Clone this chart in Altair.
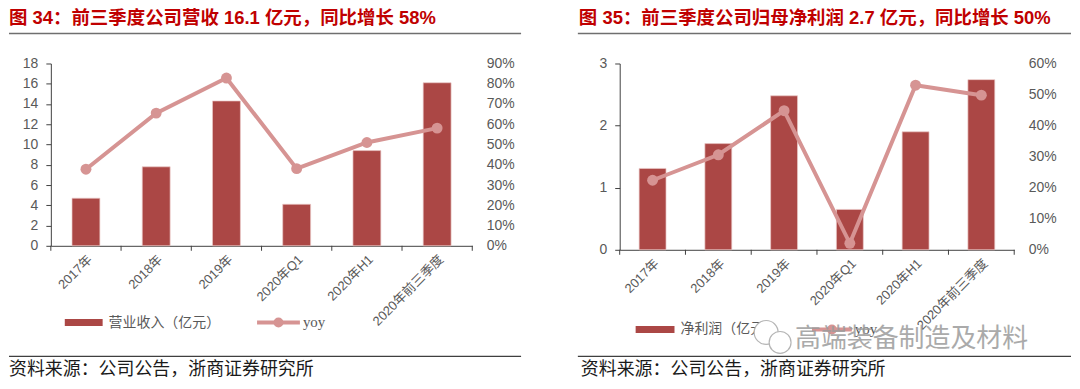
import altair as alt
import pandas as pd

categories = ["2017年", "2018年", "2019年", "2020年Q1", "2020年H1", "2020年前三季度"]
revenue = [4.7, 7.8, 14.3, 4.1, 9.4, 16.1]
revenue_yoy = [0.378, 0.655, 0.828, 0.381, 0.510, 0.581]
profit = [1.31, 1.71, 2.48, 0.65, 1.90, 2.74]
profit_yoy = [0.224, 0.306, 0.448, 0.021, 0.530, 0.498]

rev_ticks = [0, 2, 4, 6, 8, 10, 12, 14, 16, 18]
rev_pct_ticks = [0, 0.1, 0.2, 0.3, 0.4, 0.5, 0.6, 0.7, 0.8, 0.9]
prof_ticks = [0, 1, 2, 3]
prof_pct_ticks = [0, 0.1, 0.2, 0.3, 0.4, 0.5, 0.6]

title_left = "图 34：前三季度公司营收 16.1 亿元，同比增长 58%"
title_right = "图 35：前三季度公司归母净利润 2.7 亿元，同比增长 50%"
legend_left = "营业收入（亿元）"
legend_right = "净利润（亿元）"
legend_yoy = "yoy"
source_text = "资料来源：公司公告，浙商证券研究所"
watermark = "高端装备制造及材料"

BAR = "#AB4745"
LINE = "#D69493"
RED = "#C00000"
GRAY = "#595959"
AXIS = "#404040"
FONT = "Liberation Sans, Noto Sans CJK SC"
CJK = "Noto Sans CJK SC"

one = pd.DataFrame({"k": [0]})


def txt(x, y, s, size, color, font=FONT, weight="normal", align="left", opacity=1.0):
    return alt.Chart(one).mark_text(
        align=align, baseline="middle", fontSize=size, font=font,
        fontWeight=weight, color=color, opacity=opacity
    ).encode(x=alt.value(x), y=alt.value(y), text=alt.value(s))


def hrule(x1, x2, y, color, width, opacity=1.0):
    return alt.Chart(one).mark_rule(color=color, strokeWidth=width, opacity=opacity).encode(
        x=alt.value(x1), x2=alt.value(x2), y=alt.value(y))


def box(x1, x2, y1, y2, color):
    return alt.Chart(one).mark_rect(color=color).encode(
        x=alt.value(x1), x2=alt.value(x2), y=alt.value(y1), y2=alt.value(y2))


def dot(x, y, size, color, filled=True, stroke=None, sw=1.0, opacity=1.0):
    kw = dict(shape="circle", filled=filled, size=size, opacity=opacity)
    if filled:
        kw["color"] = color
    else:
        kw["color"] = stroke
        kw["strokeWidth"] = sw
    return alt.Chart(one).mark_point(**kw).encode(x=alt.value(x), y=alt.value(y))


def panel(values, yoy, vticks, pticks, w, h, barsize, title, title_x, sep_right,
          src_x, leg_rect, leg_text_x, leg_text, leg_y, leg_line, extra):
    df = pd.DataFrame({"cat": categories, "val": values, "yoy": yoy})
    base = alt.Chart(df)
    xenc = alt.X(
        "cat:N", sort=categories,
        scale=alt.Scale(paddingInner=0, paddingOuter=0),
        axis=alt.Axis(title=None, labelAngle=-45, labelFontSize=13, labelColor=GRAY,
                      labelFont=FONT, ticks=False, domainColor=AXIS, domainWidth=1,
                      labelPadding=7, labelOverlap=False),
    )
    bars = base.mark_bar(size=barsize, color=BAR, stroke="#EBC9C8", strokeWidth=0.7).encode(
        x=xenc,
        y=alt.Y("val:Q", scale=alt.Scale(domain=[vticks[0], vticks[-1]], nice=False, zero=True),
                axis=alt.Axis(title=None, values=vticks, grid=False, format="d",
                              labelFontSize=14, labelColor=GRAY, labelFont=FONT,
                              domainColor=AXIS, tickColor=AXIS, tickSize=5,
                              labelPadding=8, labelOverlap=False)),
    )
    yscale = alt.Scale(domain=[0, pticks[-1]], nice=False)
    paxis = alt.Axis(orient="right", title=None, values=pticks, format=".0%",
                     grid=False, domain=False, ticks=False, tickSize=0,
                     labelFontSize=14, labelColor=GRAY, labelFont=FONT,
                     labelPadding=14, labelOverlap=False, labelBound=False,
                     labelFlush=False)
    line = base.mark_line(color=LINE, strokeWidth=4).encode(
        x=alt.X("cat:N", sort=categories),
        y=alt.Y("yoy:Q", scale=yscale, axis=paxis),
    )
    pts = base.mark_circle(color=LINE, size=120, opacity=1).encode(
        x=alt.X("cat:N", sort=categories),
        y=alt.Y("yoy:Q", scale=yscale, axis=paxis),
    )
    ticks = base.mark_rule(color=AXIS, strokeWidth=1).encode(
        x=alt.X("cat:N", sort=categories, bandPosition=0),
        y=alt.value(h), y2=alt.value(h + 5),
    )
    end_tick = alt.Chart(one).mark_rule(color=AXIS, strokeWidth=1).encode(
        x=alt.value(w), y=alt.value(h), y2=alt.value(h + 5))

    anchor = alt.Chart(one).mark_rule(opacity=0, strokeWidth=0.01).encode(
        x=alt.value(-42), x2=alt.value(-40), y=alt.value(-55))

    deco = [
        anchor,
        txt(title_x, -46, title, 18.5, RED, weight="bold"),
        hrule(-42, sep_right, -30, "#6f6f6f", 1.5),
        box(leg_rect[0], leg_rect[1], leg_y - 3.5, leg_y + 3.5, BAR),
        txt(leg_text_x, leg_y, leg_text, 14, GRAY, font=CJK),
        hrule(leg_line[0], leg_line[1], leg_y, LINE, 4),
        dot((leg_line[0] + leg_line[1]) / 2, leg_y, 100, LINE),
        txt(leg_line[1] + 3, leg_y, legend_yoy, 15, GRAY, font="Liberation Serif"),
        hrule(-42, sep_right, 294, "#3f3f3f", 1.2),
        txt(src_x, 308, source_text, 18, "#1a1a1a", font=CJK),
    ] + extra

    inner = alt.layer(line, pts)
    return alt.layer(bars, inner, ticks, end_tick, *deco).resolve_scale(y="independent").properties(
        width=w, height=h)


left = panel(revenue, revenue_yoy, rev_ticks, rev_pct_ticks, 423, 183, 28,
             title_left, -42, 472, -42, (14, 52), 58, legend_left, 260, (207, 250), [])

right_extra = [
    dot(147, 270, 576, "white"),
    dot(147, 270, 576, None, filled=False, stroke="#b5b5b5", sw=1.2),
    dot(161, 280, 484, "white"),
    dot(161, 280, 484, None, filled=False, stroke="#b5b5b5", sw=1.2),
    txt(176, 277, watermark, 26, "#9c9c9c", font=CJK, opacity=0.85),
]
right = panel(profit, profit_yoy, prof_ticks, prof_pct_ticks, 396, 187, 27,
              title_right, -41, 453, -39, (16, 55), 61, legend_right, 267, (193, 233),
              right_extra)

chart = alt.hconcat(left, right, spacing=55).properties(padding=0).configure_view(stroke=None)

chart.save("out.html", embed_options={"renderer": "svg", "actions": False})
